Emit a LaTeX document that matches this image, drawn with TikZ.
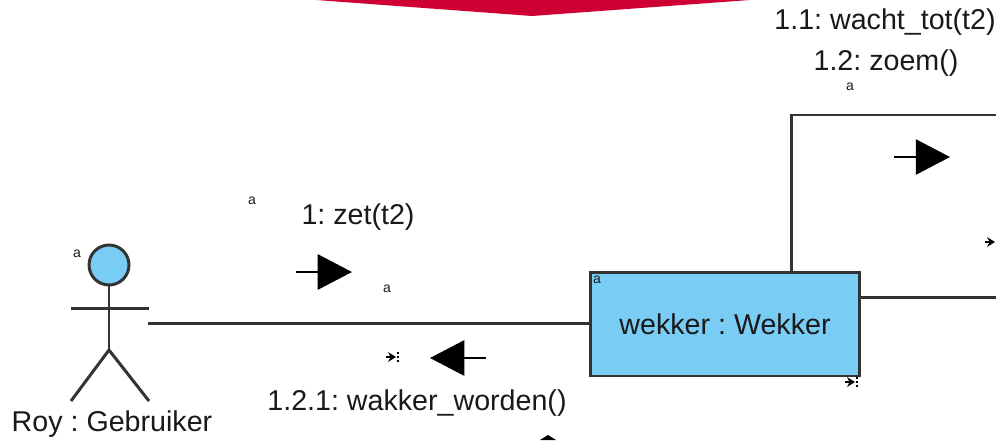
\documentclass[tikz,border=0pt]{standalone}
\usepackage{fontspec}
\setmainfont{Liberation Sans}
\usepackage{tikz}
\usetikzlibrary{arrows.meta}
\definecolor{objblue}{HTML}{79CDF5}
\definecolor{bannerred}{HTML}{CE0033}
\definecolor{umlline}{HTML}{333333}
\frenchspacing
\tikzset{
    umlline/.style={draw=umlline,line width=1.7pt},
    msgarrow/.style={draw=black,line width=1.3pt,-{Triangle[length=19.5pt,width=20pt]}},
    msgtext/.style={inner sep=0pt,text=black!90,font=\fontsize{16.3}{18}\selectfont},
    tinytext/.style={inner sep=0pt,text=black!90,font=\fontsize{8}{9}\selectfont},
    markline/.style={draw=black,line width=1pt,-{Stealth[length=4.5pt,width=5.5pt]}},
    markdots/.style={draw=black,line width=1pt,dash pattern=on 1.2pt off 1pt}
}
\begin{document}
\begin{tikzpicture}[x=0.02cm,y=-0.02cm]
    \useasboundingbox (0,0) rectangle (996,440);
    \clip (0,0) rectangle (996,440);
    \fill[bannerred] (316,0) -- (532,16) -- (750,0) -- cycle;
    \fill[black] (540,440) -- (548,435) -- (556,440) -- cycle;
    % actor
    \node[circle,umlline,fill=objblue,minimum size=0.8cm,inner sep=0pt] (royhead) at (109,265) {};
    \coordinate (roywaist) at (109,350);
    \coordinate (royarml) at (71,308);
    \coordinate (royarmr) at (149,308);
    \coordinate (roylegl) at (71,401);
    \coordinate (roylegr) at (149,401);
    \coordinate (royend) at (148,323);
    \draw[umlline] (royhead) -- (roywaist);
    \draw[umlline] (royarml) -- (royarmr);
    \draw[umlline] (roylegl) -- (roywaist) -- (roylegr);
    \node[msgtext] (roylabel) at (112,424) {Roy : Gebruiker};
    % object
    \node[rectangle,umlline,fill=objblue,minimum width=5.4cm,minimum height=2.08cm,inner sep=0pt,
        font=\fontsize{16.3}{18}\selectfont,text=black!90] (wekker) at (725,324) {wekker : Wekker};
    % links
    \coordinate (loopa) at (791,115);
    \coordinate (loopb) at (996,115);
    \coordinate (loopc) at (996,297);
    \draw[umlline] (royend) -- (wekker.west |- royend);
    \draw[umlline] (wekker.north -| loopa) -- (loopa) -- (loopb);
    \draw[umlline] (wekker.east |- loopc) -- (loopc);
    % message arrows
    \coordinate (zetfrom) at (296,272);
    \coordinate (zetto) at (352,272);
    \coordinate (wakfrom) at (486,358);
    \coordinate (wakto) at (430,358);
    \coordinate (zoemfrom) at (894,157);
    \coordinate (zoemto) at (950,157);
    \draw[msgarrow] (zetfrom) -- (zetto);
    \draw[msgarrow] (wakfrom) -- (wakto);
    \draw[msgarrow] (zoemfrom) -- (zoemto);
    \node[msgtext] (zetlabel) at (358,217) {1: zet(t2)};
    \node[msgtext] (waklabel) at (417,403) {1.2.1: wakker\_worden()};
    \node[msgtext] (wachtlabel) at (885,22) {1.1: wacht\_tot(t2)};
    \node[msgtext] (zoemlabel) at (886,63) {1.2: zoem()};
    % small marks
    \node[tinytext] (aone) at (252,201) {a};
    \node[tinytext] (atwo) at (387,289) {a};
    \node[tinytext] (athree) at (77,254) {a};
    \node[tinytext] (afour) at (597,280) {a};
    \node[tinytext] (afive) at (850,87) {a};
    \foreach \x/\y in {393/357,852/382,992/242} {
        \draw[markline] (\x-7,\y) -- (\x+3,\y);
        \draw[markdots] (\x+5,\y-5) -- (\x+5,\y+6);
    }
\end{tikzpicture}
\end{document}
